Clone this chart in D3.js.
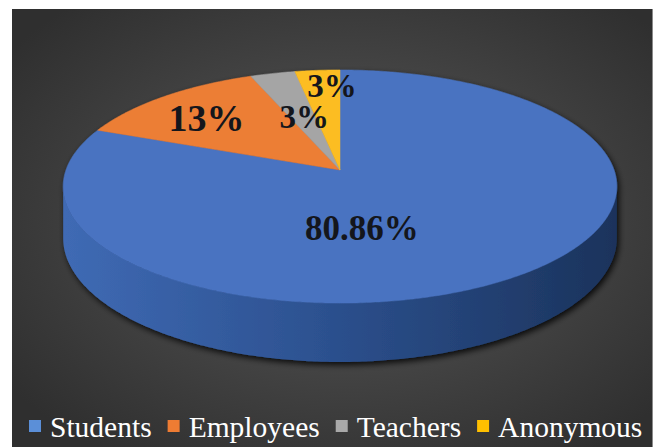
<!DOCTYPE html>
<html>
<head>
<meta charset="utf-8">
<script src="https://cdn.jsdelivr.net/npm/d3@7"></script>
<style>
  html, body { margin: 0; padding: 0; background: #ffffff; }
  svg { display: block; }
</style>
</head>
<body>
<svg id="chart" width="656" height="447"></svg>
<script>
// Respondent groups and their shares (%)
const categories = ["Students", "Employees", "Teachers", "Anonymous"];
const values = [80.86, 13, 3, 3];
const valueLabels = ["80.86%", "13%", "3%", "3%"];

const topColors = ["#4873c1", "#ec7e36", "#a5a5a5", "#fcbd22"];
const legendColors = ["#5b8fd8", "#ee7c33", "#a9a9a9", "#ffc000"];

const svg = d3.select("#chart");
const W = 656, H = 447;
const SERIF = "Liberation Serif";

// ---- panel background ----
const defs = svg.append("defs");
const bg = defs.append("radialGradient").attr("id", "bg")
  .attr("cx", "52%").attr("cy", "48%").attr("r", "65%");
bg.append("stop").attr("offset", "0%").attr("stop-color", "#5a5a5a");
bg.append("stop").attr("offset", "100%").attr("stop-color", "#2f2f2f");

svg.append("rect").attr("x", 12).attr("y", 9).attr("width", 641).attr("height", H - 9)
  .attr("fill", "url(#bg)");
svg.append("line").attr("x1", 652.5).attr("x2", 652.5).attr("y1", 9).attr("y2", H)
  .attr("stroke", "#8a8a8a").attr("stroke-width", 1);

// ---- 3D perspective pie geometry ----
const CX = 340, CY = 170;        // projected centre of the top face
const SX = 274, SY = 114.2;      // horizontal / vertical radius scale
const PERSP = 0.142;             // perspective strength (near side larger)
const DEPTH = 50.5;              // thickness of the disc

// theta: clockwise from 12 o'clock; f: radius fraction; z: 0 top face, 1 bottom face
function proj(theta, f, z) {
  const u = f * Math.sin(theta), v = -f * Math.cos(theta);
  const w = 1 - PERSP * v;
  return [CX + SX * u / w, CY + (SY * v + DEPTH * z) / w];
}

const pie = d3.pie().sort(null).value(d => d)
  .startAngle(0).endAngle(2 * Math.PI);
const arcs = pie(values);

function rimPoints(a0, a1, z) {
  const n = Math.max(2, Math.ceil(Math.abs(a1 - a0) / 0.01));
  return d3.range(n + 1).map(i => proj(a0 + (a1 - a0) * i / n, 1, z));
}

// drop shadow beneath the disc
const sh = defs.append("filter").attr("id", "shadow")
  .attr("x", "-10%").attr("y", "-10%").attr("width", "120%").attr("height", "130%");
sh.append("feGaussianBlur").attr("in", "SourceAlpha").attr("stdDeviation", 3).attr("result", "b");
sh.append("feOffset").attr("in", "b").attr("dx", 2).attr("dy", 3).attr("result", "o");
sh.append("feComponentTransfer").attr("in", "o").attr("result", "s")
  .append("feFuncA").attr("type", "linear").attr("slope", 0.85);
const mg = sh.append("feMerge");
mg.append("feMergeNode").attr("in", "s");
mg.append("feMergeNode").attr("in", "SourceGraphic");

// side wall gradient
const sideGrad = defs.append("linearGradient").attr("id", "side")
  .attr("gradientUnits", "userSpaceOnUse")
  .attr("x1", CX - SX).attr("x2", CX + SX).attr("y1", 0).attr("y2", 0);
sideGrad.append("stop").attr("offset", "0%").attr("stop-color", "#3f6ab4");
sideGrad.append("stop").attr("offset", "45%").attr("stop-color", "#2d5291");
sideGrad.append("stop").attr("offset", "100%").attr("stop-color", "#1b335c");

const line = d3.line();
const pieG = svg.append("g").attr("filter", "url(#shadow)");

// visible front wall spans between the silhouette angles
const visA = Math.acos(-PERSP), visB = 2 * Math.PI - Math.acos(-PERSP);
arcs.forEach((a, i) => {
  const s = Math.max(a.startAngle, visA), e = Math.min(a.endAngle, visB);
  if (e <= s) return;
  const pts = rimPoints(s, e, 0).concat(rimPoints(e, s, 1));
  pieG.append("path").attr("d", line(pts) + "Z")
    .attr("fill", i === 0 ? "url(#side)" : d3.color(topColors[i]).darker(0.9));
});

// top face slices
arcs.forEach((a, i) => {
  const pts = [proj(0, 0, 0)].concat(rimPoints(a.startAngle, a.endAngle, 0));
  pieG.append("path").attr("d", line(pts) + "Z").attr("fill", topColors[i])
    .attr("stroke", topColors[i]).attr("stroke-width", 0.5);
});

// ---- value labels ----
const labelRadius = [0.3, 0.74, 0.5, 0.82];
const labelNudge = [[-26, 29], [0, 4], [0, -2], [11, 0]];
const labelSize = [35, 38, 33, 33];
arcs.forEach((a, i) => {
  const mid = (a.startAngle + a.endAngle) / 2;
  const p = proj(mid, labelRadius[i], 0);
  svg.append("text")
    .attr("x", p[0] + labelNudge[i][0]).attr("y", p[1] + labelNudge[i][1])
    .attr("text-anchor", "middle").attr("dominant-baseline", "central")
    .style("font-family", SERIF)
    .style("font-weight", "bold").style("font-size", labelSize[i] + "px")
    .attr("fill", "#14161c")
    .text(valueLabels[i]);
});

// ---- legend ----
const legend = svg.append("g");
const fs = 29.5, sq = 12, gapIn = 9, gapOut = 16;
let x = 0;
categories.forEach((c, i) => {
  const g = legend.append("g");
  g.append("rect").attr("x", x).attr("y", -sq / 2 - 1).attr("width", sq).attr("height", sq)
    .attr("fill", legendColors[i]);
  const t = g.append("text").attr("x", x + sq + gapIn).attr("y", 0)
    .attr("dominant-baseline", "central")
    .style("font-family", SERIF)
    .style("font-size", fs + "px").attr("fill", "#ffffff").text(c);
  x += sq + gapIn + t.node().getComputedTextLength() + gapOut;
});
legend.attr("transform", "translate(29, 427)");
</script>
</body>
</html>
